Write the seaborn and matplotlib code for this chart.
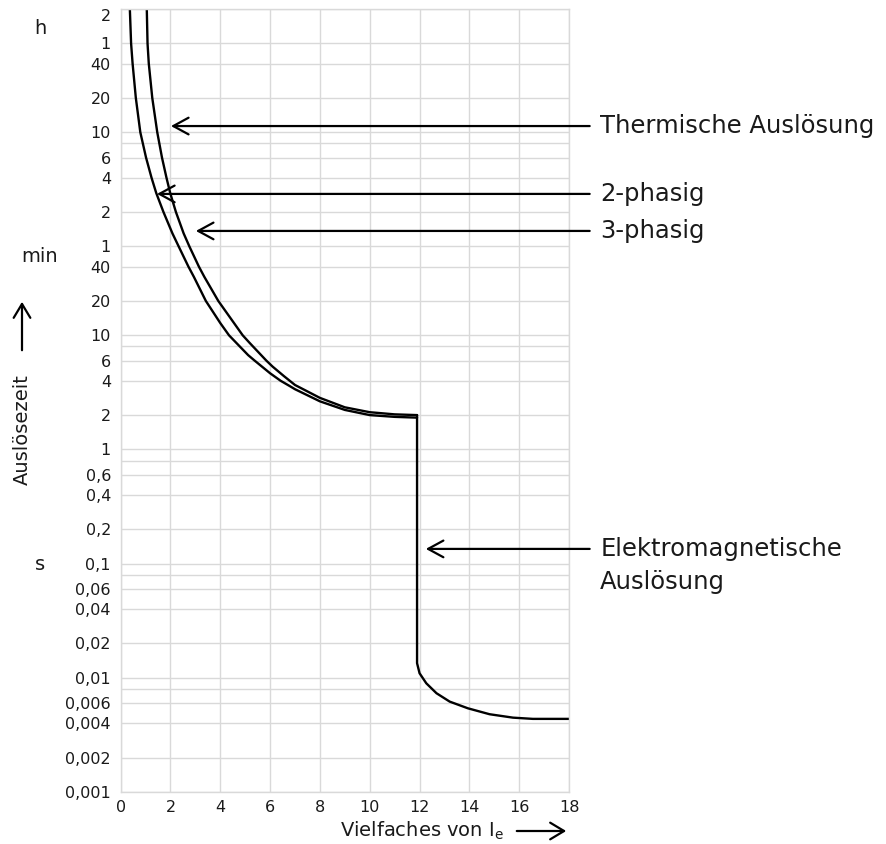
import numpy as np
import matplotlib
matplotlib.use("Agg")
import matplotlib.pyplot as plt
from matplotlib.ticker import FixedLocator, NullFormatter
import seaborn as sns

# trip times in seconds, x = multiple of Ie
x_2ph = [0.37, 0.42, 0.48, 0.61, 0.79, 1.02, 1.24, 1.43, 1.72, 2.08, 2.33, 2.72, 2.94, 3.42, 4.0,
         4.35, 5.12, 5.38, 6.0, 6.42, 6.78, 7.0, 8.0, 9.0, 10.0, 11.0, 11.9]
t_2ph = [7200, 3600, 2400, 1200, 600, 360, 240, 176, 120, 78, 60, 40, 32.5, 20, 12.8,
         10, 6.7, 6, 4.65, 4, 3.6, 3.37, 2.64, 2.22, 2.0, 1.93, 1.9]

x_3ph = [1.05, 1.08, 1.13, 1.27, 1.47, 1.66, 1.84, 1.99, 2.22, 2.53, 2.76, 3.14, 3.36, 3.92,
         4.90, 5.18, 5.85, 6.10, 6.55, 7.0, 8.0, 9.0, 10.0, 11.0, 11.9]
t_3ph = [7200, 3600, 2400, 1200, 600, 360, 240, 176, 120, 78, 60, 40, 32.5, 20,
         10, 8.57, 6, 5.32, 4.4, 3.67, 2.83, 2.34, 2.12, 2.03, 2.0]

# electromagnetic release
x_em = [11.9, 11.9, 12.0, 12.27, 12.68, 13.21, 13.94, 14.81, 15.75, 16.55, 18.0]
t_em = [2.0, 0.01344, 0.01097, 0.00896, 0.00733, 0.00619, 0.00541, 0.0048, 0.00448, 0.00437, 0.00437]

ytick_vals = [7200, 3600, 2400, 1200, 600, 360, 240, 120, 60, 40, 20, 10, 6, 4, 2, 1,
              0.6, 0.4, 0.2, 0.1, 0.06, 0.04, 0.02, 0.01, 0.006, 0.004, 0.002, 0.001]
ytick_labels = ["2", "1", "40", "20", "10", "6", "4", "2", "1", "40", "20", "10", "6", "4", "2", "1",
                "0,6", "0,4", "0,2", "0,1", "0,06", "0,04", "0,02", "0,01", "0,006", "0,004", "0,002", "0,001"]
yminor_vals = [480, 8, 0.8, 0.08, 0.008]
xtick_vals = [0, 2, 4, 6, 8, 10, 12, 14, 16, 18]

# annotations: (label, arrow tip x, arrow tip t)
notes = [("Thermische Auslösung", 2.02, 680),
         ("2-phasig", 1.46, 173),
         ("3-phasig", 3.02, 82),
         ("Elektromagnetische", 12.25, 0.1346)]

sns.set_theme(style="white")
plt.rcParams["font.family"] = ["DejaVu Sans"]

fig = plt.figure(figsize=(8.87, 8.44), dpi=100)
ax = fig.add_axes([0.136, 0.0616, 0.5055, 0.9277])

lw = 1.7
sns.lineplot(x=x_2ph, y=t_2ph, ax=ax, color="black", lw=lw, sort=False, estimator=None)
sns.lineplot(x=x_3ph, y=t_3ph, ax=ax, color="black", lw=lw, sort=False, estimator=None)
sns.lineplot(x=x_em, y=t_em, ax=ax, color="black", lw=lw, sort=False, estimator=None)

ax.set_yscale("log")
ax.set_xlim(0, 18)
ax.set_ylim(0.001, 7200)
ax.set_yticks(ytick_vals, ytick_labels)
ax.yaxis.set_minor_locator(FixedLocator(yminor_vals))
ax.yaxis.set_minor_formatter(NullFormatter())
ax.set_xticks(xtick_vals)
ax.grid(True, which="both", color="#d9d9d9", lw=1.0)
ax.tick_params(axis="both", which="both", length=0, labelsize=11.5, colors="#1a1a1a")
ax.tick_params(axis="y", pad=7)
ax.tick_params(axis="x", pad=6)
for s in ax.spines.values():
    s.set_color("#d9d9d9")
    s.set_linewidth(1.0)
ax.get_yticklabels()[0].set_va("top")
ax.set_xlabel("")
ax.set_ylabel("")

# right side annotations
for label, xt, yt in notes:
    ax.annotate("", xy=(xt, yt), xytext=(18.83, yt), annotation_clip=False,
                arrowprops=dict(arrowstyle="->,head_length=0.55,head_width=0.3",
                                color="black", lw=1.6, mutation_scale=20, shrinkA=0, shrinkB=0))
    ax.text(19.25, yt, label, fontsize=17.5, va="center", ha="left", color="#1a1a1a", clip_on=False)
ax.text(19.25, 0.1346 * 10 ** (-33 / 114.2), "Auslösung", fontsize=17.5, va="center",
        ha="left", color="#1a1a1a", clip_on=False)

# unit labels
W, H = 887, 844
for txt, py in [("h", 29), ("min", 257), ("s", 565)]:
    fig.text(40 / W, 1 - py / H, txt, fontsize=14, ha="center", va="center", color="#1a1a1a")

fig.text(22 / W, 1 - 430 / H, "Auslösezeit", rotation=90, fontsize=14, ha="center", va="center",
         color="#1a1a1a")
fig.add_artist(matplotlib.patches.FancyArrowPatch((22 / W, 1 - 353 / H), (22 / W, 1 - 299 / H),
               transform=fig.transFigure, arrowstyle="->,head_length=0.5,head_width=0.3",
               mutation_scale=20, color="black", lw=1.6))

fig.text(422 / W, 1 - 831 / H, r"Vielfaches von I$_\mathregular{e}$", fontsize=14, ha="center",
         va="center", color="#1a1a1a")
fig.add_artist(matplotlib.patches.FancyArrowPatch((514 / W, 1 - 831 / H), (569 / W, 1 - 831 / H),
               transform=fig.transFigure, arrowstyle="->,head_length=0.5,head_width=0.3",
               mutation_scale=20, color="black", lw=1.6))

fig.savefig("out.png", dpi=100)
